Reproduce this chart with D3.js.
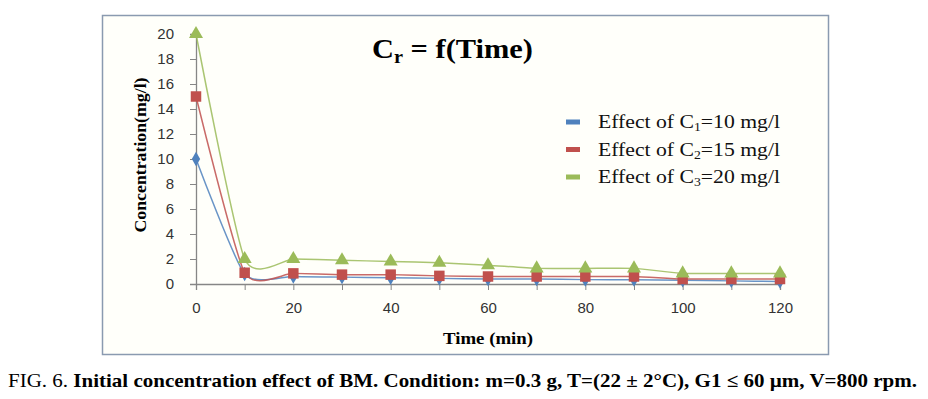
<!DOCTYPE html>
<html>
<head>
<meta charset="utf-8">
<script src="https://cdnjs.cloudflare.com/ajax/libs/d3/7.8.5/d3.min.js"></script>
<style>
  body { margin: 0; background: #fff; }
  svg { display: block; }
</style>
</head>
<body>
<div class="canvas"></div>
<script>
// data
const times = [0, 10, 20, 30, 40, 50, 60, 70, 80, 90, 100, 110, 120];
const c1 = [10, 0.8, 0.6, 0.55, 0.5, 0.45, 0.4, 0.4, 0.35, 0.35, 0.3, 0.25, 0.2];
const c2 = [15, 0.9, 0.85, 0.75, 0.75, 0.65, 0.6, 0.6, 0.6, 0.6, 0.4, 0.4, 0.4];
const c3 = [20, 2.0, 2.0, 1.9, 1.8, 1.7, 1.5, 1.25, 1.25, 1.25, 0.85, 0.85, 0.85];
const seriesNames = ['1=10 mg/l', '2=15 mg/l', '3=20 mg/l'];
const xTicks = [0, 20, 40, 60, 80, 100, 120];
const yTicks = [0, 2, 4, 6, 8, 10, 12, 14, 16, 18, 20];

const width = 928, height = 399;
const margin = { top: 34, left: 196, right: 148, bottom: 115 };
const graphWidth = width - margin.left - margin.right;
const graphHeight = height - margin.top - margin.bottom;

const svg = d3.select('.canvas')
    .append('svg')
    .attr('width', width)
    .attr('height', height);

// chart frame
svg.append('rect')
    .attr('x', 102.5).attr('y', 15.5)
    .attr('width', 726).attr('height', 339)
    .attr('fill', '#fffffa')
    .attr('stroke', '#8a9ab0')
    .attr('stroke-width', 1.5);

const graph = svg.append('g')
    .attr('transform', `translate(${margin.left}, ${margin.top})`);

// scales
const x = d3.scaleLinear().domain([0, 120]).range([0, graphWidth]);
const y = d3.scaleLinear().domain([0, 20]).range([graphHeight, 0]);

// axes
const xAxis = d3.axisBottom(x)
    .tickValues(d3.range(0, 121, 10))
    .tickSize(6)
    .tickFormat(d => xTicks.includes(d) ? d : '');
const yAxis = d3.axisLeft(y)
    .tickValues(yTicks)
    .tickSize(6)
    .tickFormat(d => d);

const xAxisGroup = graph.append('g')
    .attr('transform', `translate(0, ${graphHeight})`)
    .call(xAxis);
const yAxisGroup = graph.append('g').call(yAxis);

[xAxisGroup, yAxisGroup].forEach(g => {
    g.select('.domain').attr('stroke', '#868686').attr('stroke-width', 1.3);
    g.selectAll('.tick line').attr('stroke', '#868686');
    g.selectAll('.tick text')
        .attr('fill', '#333')
        .style('font-family', '"Liberation Sans", Arial, sans-serif')
        .style('font-size', '15px');
});
xAxisGroup.selectAll('.tick text').attr('dy', '1.3em');
yAxisGroup.selectAll('.tick text').attr('x', -22);

// lines
const line = d3.line()
    .x((d, i) => x(times[i]))
    .y(d => y(d))
    .curve(d3.curveCardinal.tension(0.4));

const series = [
    { values: c1, color: '#4F81BD', marker: 'diamond' },
    { values: c2, color: '#C0504D', marker: 'square' },
    { values: c3, color: '#9BBB59', marker: 'triangle' }
];

series.forEach(s => {
    graph.append('path')
        .datum(s.values)
        .attr('fill', 'none')
        .attr('stroke', s.color)
        .attr('stroke-width', 1.5)
        .attr('stroke-opacity', 0.85)
        .attr('d', line);
});

const symbols = {
    diamond: d3.symbol(d3.symbolDiamond, 60),
    square: d3.symbol(d3.symbolSquare, 110),
    triangle: d3.symbol(d3.symbolTriangle, 85)
};

series.forEach(s => {
    graph.selectAll(null)
        .data(s.values)
        .enter()
        .append('path')
        .attr('d', symbols[s.marker])
        .attr('transform', (d, i) => `translate(${x(times[i])}, ${y(d)})`)
        .attr('fill', s.color);
});

// title
const serif = '"Liberation Serif", "Times New Roman", serif';
const title = svg.append('text')
    .attr('x', 372).attr('y', 58)
    .attr('textLength', 161)
    .attr('lengthAdjust', 'spacingAndGlyphs')
    .style('font-family', serif)
    .style('font-weight', 'bold')
    .style('font-size', '27px')
    .attr('fill', '#000');
title.append('tspan').text('C');
title.append('tspan').attr('dy', 5).style('font-size', '18px').text('r');
title.append('tspan').attr('dy', -5).text(' = f(Time)');

// axis titles
svg.append('text')
    .attr('transform', 'translate(146, 155) rotate(-90)')
    .attr('text-anchor', 'middle')
    .attr('textLength', 155)
    .attr('lengthAdjust', 'spacingAndGlyphs')
    .style('font-family', serif)
    .style('font-weight', 'bold')
    .style('font-size', '17px')
    .text('Concentration(mg/l)');

svg.append('text')
    .attr('x', 488).attr('y', 344)
    .attr('text-anchor', 'middle')
    .attr('textLength', 90)
    .attr('lengthAdjust', 'spacingAndGlyphs')
    .style('font-family', serif)
    .style('font-weight', 'bold')
    .style('font-size', '17px')
    .text('Time (min)');

// legend
const legend = svg.append('g').attr('transform', 'translate(566, 122)');
series.forEach((s, i) => {
    const row = legend.append('g').attr('transform', `translate(0, ${i * 27.5})`);
    row.append('rect')
        .attr('x', 0).attr('y', -2.5)
        .attr('width', 14).attr('height', 5)
        .attr('fill', s.color);
    const t = row.append('text')
        .attr('x', 32).attr('y', 6)
        .attr('textLength', 182)
        .attr('lengthAdjust', 'spacingAndGlyphs')
        .style('font-family', serif)
        .style('font-size', '19px')
        .attr('fill', '#111');
    t.append('tspan').text('Effect of C');
    t.append('tspan').attr('dy', 3).style('font-size', '12px').text(seriesNames[i].slice(0, 1));
    t.append('tspan').attr('dy', -3).text(seriesNames[i].slice(1));
});

// caption
const caption = svg.append('text')
    .attr('x', 8).attr('y', 387)
    .attr('textLength', 909)
    .attr('lengthAdjust', 'spacingAndGlyphs')
    .style('font-family', serif)
    .style('font-size', '19px')
    .attr('fill', '#000');
caption.append('tspan').text('FIG. 6. ');
caption.append('tspan').style('font-weight', 'bold')
    .text('Initial concentration effect of BM. Condition: m=0.3 g, T=(22 \u00b1 2\u00b0C), G1 \u2264 60 \u00b5m, V=800 rpm.');
</script>
</body>
</html>
